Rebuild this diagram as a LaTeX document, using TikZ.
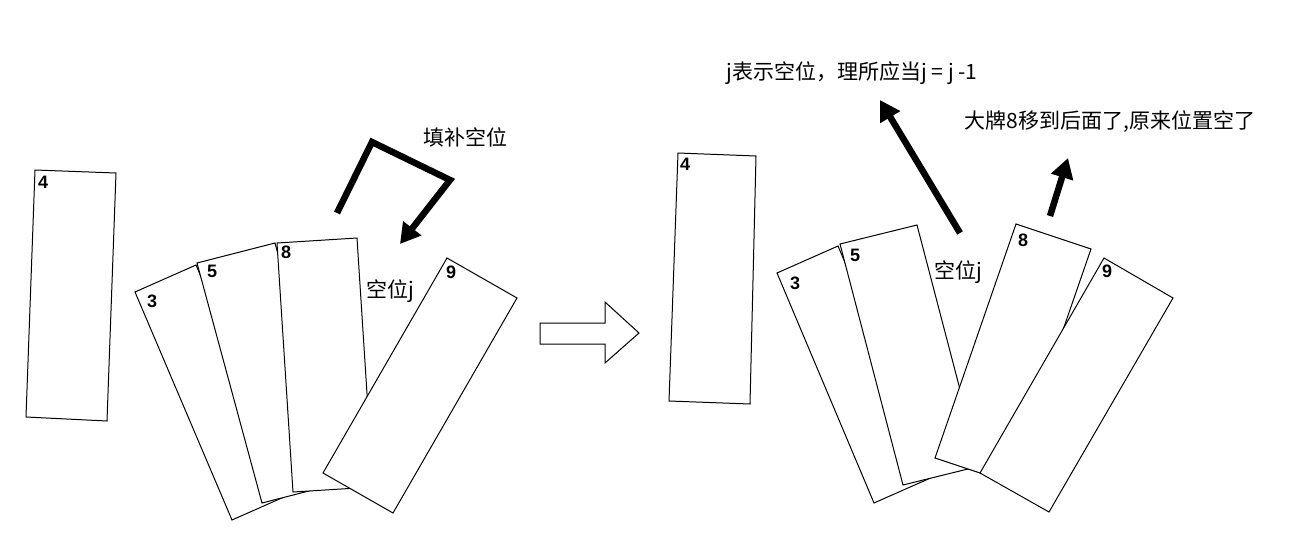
\documentclass[tikz,border=0pt]{standalone}
\usepackage{fontspec}
\setmainfont{Liberation Sans}
\newfontfamily\cjk{Noto Sans CJK SC}
\usetikzlibrary{arrows.meta}
\begin{document}
\begin{tikzpicture}[x=1pt,y=-1pt,
  card/.style={draw=black,fill=white,line width=1pt},
  num/.style={font=\fontsize{18}{18}\selectfont\bfseries,anchor=north west,inner sep=0pt},
  lbl/.style={font=\cjk\fontsize{21}{21}\selectfont,inner sep=0pt},
  big/.style={line width=6.5pt,-{Triangle[length=20pt,width=22pt]}}]
\useasboundingbox (0,0) rectangle (1299,557);
% left group
\draw[card] (35,170) -- (116,173) -- (107,421) -- (26,417) -- cycle;
\node[num] at (38,176) {4};
\draw[card] (135,292) -- (196,265) -- (293,493) -- (232,520) -- cycle;
\node[num] at (147,295) {3};
\draw[card] (197,263) -- (275,243) -- (340,483) -- (262,503) -- cycle;
\node[num] at (207,265) {5};
\draw[card] (277,243) -- (357,238) -- (373,487) -- (293,492) -- cycle;
\node[num] at (281,246) {8};
\draw[card] (447,258) -- (517,298) -- (393,513) -- (323,473) -- cycle;
\node[num] at (446,266) {9};
\node[lbl] (gapL) at (390,291) {空位j};
\node[lbl] (fill) at (465,137) {填补空位};
\coordinate (a1) at (337,213);
\coordinate (a2) at (372,142);
\coordinate (a3) at (450,180);
\coordinate (a4) at (400,244);
\draw[big,line join=miter] (a1) -- (a2) -- (a3) -- (a4);
% hollow arrow
\draw[line width=1pt,fill=white] (540,323) -- (605,323) -- (605,302) -- (639,333) -- (605,363) -- (605,344) -- (540,344) -- cycle;
% right group
\draw[card] (678,153) -- (756,156) -- (750,404) -- (669,401) -- cycle;
\node[num] at (680,158) {4};
\draw[card] (777,273) -- (838,246) -- (935,476) -- (874,503) -- cycle;
\node[num] at (790,277) {3};
\draw[card] (840,244) -- (917,225) -- (980,466) -- (903,485) -- cycle;
\node[num] at (850,249) {5};
\draw[card] (1016,224) -- (1091,249) -- (1010,483) -- (935,458) -- cycle;
\node[num] at (1018,234) {8};
\draw[card] (1104,258) -- (1173,298) -- (1049,512) -- (980,473) -- cycle;
\node[num] at (1102,265) {9};
\node[lbl] (gapR) at (958,272) {空位j};
\node[lbl] (t1) at (852,73) {j表示空位，理所应当j = j -1};
\node[lbl] (t2) at (1110,122) {大牌8移到后面了,原来位置空了};
\coordinate (b1) at (960,233);
\coordinate (b2) at (880,100);
\draw[big] (b1) -- (b2);
\coordinate (c1) at (1050,216);
\coordinate (c2) at (1068,158);
\draw[big] (c1) -- (c2);
\end{tikzpicture}
\end{document}
